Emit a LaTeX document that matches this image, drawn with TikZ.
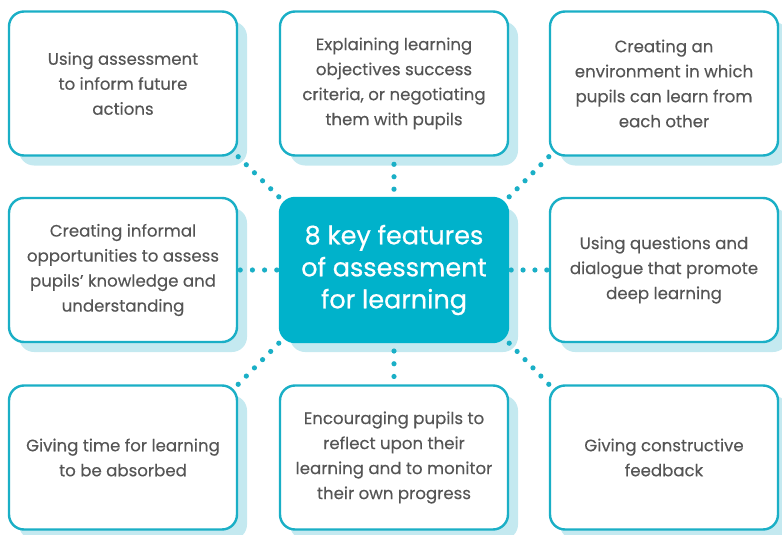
\documentclass[tikz,border=0pt]{standalone}
\usepackage{fontspec}
\setmainfont{Poppins}[FakeBold=0.25]
\newfontfamily\keyfont{Poppins}[FakeBold=0.6]
\usepackage{tikz}
\usetikzlibrary{shadows,calc}
\definecolor{featcyan}{HTML}{1AAFC6}
\definecolor{keycyan}{HTML}{00B2CB}
\definecolor{shadecyan}{HTML}{C4E9F0}
\definecolor{textgray}{HTML}{555555}
\tikzstyle{featbox}=[draw=featcyan, line width=2.4pt, rounded corners=15pt, fill=white, minimum width=228pt, minimum height=144pt, align=center, text=textgray, font=\fontsize{16.6}{25}\selectfont, drop shadow={shadow xshift=10pt, shadow yshift=-10pt, fill=shadecyan, opacity=1}]
\tikzstyle{keybox}=[featbox, draw=keycyan, fill=keycyan, text=white, font=\keyfont\fontsize{25.5}{32}\selectfont]
\tikzstyle{dotfill}=[fill=featcyan]
% row of dots from #1 to #2, trimmed by the fraction #3 at both ends, #4 gaps
\newcommand{\dotLink}[4]{
	\foreach \k in {0,...,#4}
		\fill[dotfill] ($#1!{#3+\k*(1-2*#3)/#4}!#2$) circle (2.6pt);
}

\begin{document}
\begin{tikzpicture}[x=1pt,y=-1pt]
	\useasboundingbox (0,0) rectangle (782,535);
	% the eight features round the key box
	\node[featbox] (tl) at (123,83.5) {Using assessment\\to inform future\\actions};
	\node[featbox] (tc) at (394,83.5) {Explaining learning\\objectives success\\criteria, or negotiating\\them with pupils};
	\node[featbox] (tr) at (664,83.5) {Creating an\\environment in which\\pupils can learn from\\each other};
	\node[featbox] (ml) at (123,270) {Creating informal\\opportunities to assess\\pupils’ knowledge and\\understanding};
	\node[featbox] (mr) at (664,270) {Using questions and\\dialogue that promote\\deep learning};
	\node[featbox] (bl) at (123,457.5) {Giving time for learning\\to be absorbed};
	\node[featbox] (bc) at (394,457.5) {Encouraging pupils to\\reflect upon their\\learning and to monitor\\their own progress};
	\node[featbox] (br) at (664,457.5) {Giving constructive\\feedback};
	\node[keybox] (key) at (394,270) {8 key features\\of assessment\\for learning};
	% dotted links
	\dotLink{(tl.south east)}{(key.north west)}{0}{5}
	\dotLink{(tc.south)}{(key.north)}{0.19}{2}
	\dotLink{(tr.south west)}{(key.north east)}{0}{5}
	\dotLink{(ml.east)}{(key.west)}{0.05}{3}
	\dotLink{(key.east)}{(mr.west)}{0.05}{3}
	\dotLink{(key.south west)}{(bl.north east)}{0}{5}
	\dotLink{(key.south)}{(bc.north)}{0.19}{2}
	\dotLink{(key.south east)}{(br.north west)}{0}{5}
\end{tikzpicture}
\end{document}
